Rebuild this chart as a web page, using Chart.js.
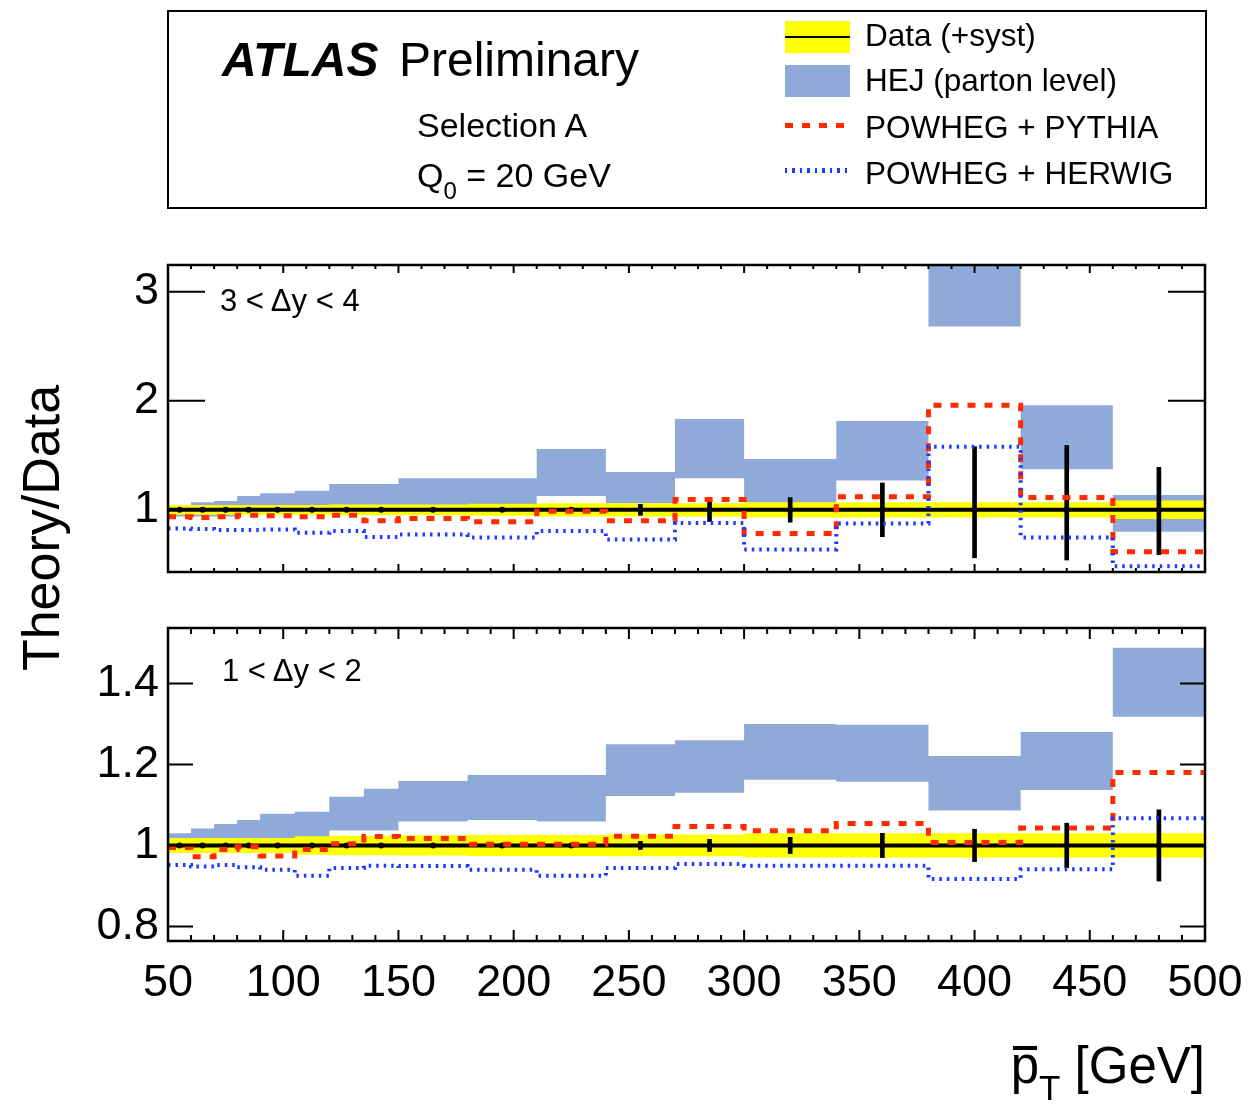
<!DOCTYPE html>
<html><head><meta charset="utf-8">
<script src="https://cdn.jsdelivr.net/npm/chart.js@4.4.1/dist/chart.umd.min.js"></script>
<style>
html,body{margin:0;padding:0;background:#fff;}
body{width:1248px;height:1104px;position:relative;overflow:hidden;font-family:"Liberation Sans",Arial,Helvetica,sans-serif;color:#000;}
canvas{position:absolute;left:0;top:0;}
.t{position:absolute;white-space:nowrap;line-height:1;}
</style></head><body>
<canvas id="cTop" width="1248" height="1104"></canvas>
<canvas id="cBot" width="1248" height="1104"></canvas>

<div style="position:absolute;left:167px;top:10px;width:1040px;height:199px;border:2.5px solid #000;box-sizing:border-box;"></div>
<div class="t" style="left:222px;top:36px;font-size:48px;font-weight:bold;font-style:italic;">ATLAS</div>
<div class="t" style="left:399px;top:36px;font-size:48px;">Preliminary</div>
<div class="t" style="left:417px;top:108px;font-size:34px;">Selection A</div>
<div class="t" style="left:417px;top:158px;font-size:34px;">Q<span style="font-size:24px;position:relative;top:12px;">0</span> = 20 GeV</div>

<div style="position:absolute;left:785px;top:21px;width:65px;height:32px;background:#ffff00;"></div>
<div style="position:absolute;left:785px;top:36px;width:65px;height:2px;background:#000;"></div>
<div style="position:absolute;left:785px;top:65px;width:65px;height:32px;background:#8faad9;"></div>
<div style="position:absolute;left:785px;top:123px;width:63px;height:5px;background:repeating-linear-gradient(90deg,#ff2a00 0 8px,transparent 8px 17px);"></div>
<div style="position:absolute;left:785px;top:168px;width:63px;height:5px;background:repeating-linear-gradient(90deg,#1a3cff 0 2.5px,transparent 2.5px 7.5px);"></div>
<div class="t" style="left:865px;top:20px;font-size:31.5px;">Data (+syst)</div>
<div class="t" style="left:865px;top:65px;font-size:31.5px;">HEJ (parton level)</div>
<div class="t" style="left:865px;top:112px;font-size:31.5px;">POWHEG + PYTHIA</div>
<div class="t" style="left:865px;top:158px;font-size:31.5px;">POWHEG + HERWIG</div>

<div class="t" style="left:220px;top:285px;font-size:31px;">3 &lt; Δy &lt; 4</div>
<div class="t" style="left:222px;top:655px;font-size:31px;">1 &lt; Δy &lt; 2</div>

<div class="t" style="left:-159px;top:498px;width:400px;height:60px;line-height:60px;text-align:center;font-size:52px;transform:rotate(-90deg);">Theory/Data</div>
<div class="t" style="right:43px;top:1040px;font-size:51px;"><span style="position:relative;display:inline-block;">p<span style="position:absolute;left:2px;right:2px;top:6px;height:4px;background:#000;"></span></span><span style="font-size:35px;position:relative;top:17px;">T</span> [GeV]</div>

<script>
// ---------------- data ----------------
const binEdges = [50,60,70,80,90,105,120,135,150,180,210,240,270,300,340,380,420,460,500];

// 3 < dy < 4
const topHejLo   = [0.94,0.94,0.94,0.97,0.98,0.99,1.02,1.02,1.04,1.04,1.126,1.06,1.29,1.064,1.27,2.68,1.373,0.80];
const topHejHi   = [1.03,1.07,1.08,1.126,1.153,1.175,1.236,1.236,1.29,1.29,1.557,1.346,1.832,1.465,1.814,3.6,1.96,1.135];
const topPythia  = [0.936,0.93,0.936,0.95,0.945,0.936,0.95,0.90,0.92,0.89,0.988,0.90,1.095,0.783,1.12,1.958,1.114,0.615];
const topHerwig  = [0.83,0.825,0.815,0.814,0.82,0.79,0.805,0.752,0.774,0.747,0.805,0.728,0.88,0.637,0.875,1.578,0.747,0.483];
const topData    = [1,1,1,1,1,1,1,1,1,1,1,1,1,1,1,1,1,1];
const topSyst    = [0.045,0.045,0.045,0.045,0.045,0.045,0.05,0.05,0.05,0.055,0.06,0.06,0.06,0.07,0.07,0.07,0.07,0.085];
const topStatUp  = [0.005,0.005,0.005,0.005,0.005,0.005,0.006,0.006,0.008,0.01,0.015,0.05,0.107,0.113,0.246,0.58,0.59,0.39];
const topStatDn  = [0.005,0.005,0.005,0.005,0.005,0.005,0.006,0.006,0.008,0.01,0.015,0.05,0.107,0.113,0.246,0.44,0.46,0.41];

// 1 < dy < 2
const botHejLo   = [0.99,1.0,1.0,1.005,1.01,1.015,1.037,1.037,1.059,1.063,1.059,1.122,1.13,1.162,1.157,1.086,1.137,1.318];
const botHejHi   = [1.03,1.042,1.053,1.063,1.078,1.083,1.12,1.14,1.159,1.174,1.174,1.25,1.26,1.30,1.298,1.221,1.28,1.488];
const botPythia  = [0.995,0.972,0.99,0.997,0.974,0.99,1.004,1.022,1.017,1.003,1.003,1.023,1.047,1.036,1.054,1.007,1.043,1.18];
const botHerwig  = [0.952,0.948,0.952,0.946,0.94,0.925,0.944,0.95,0.949,0.94,0.925,0.944,0.954,0.95,0.95,0.917,0.941,1.067];
const botData    = [1,1,1,1,1,1,1,1,1,1,1,1,1,1,1,1,1,1];
const botSyst    = [0.0185,0.0185,0.0185,0.0185,0.0185,0.023,0.024,0.024,0.025,0.026,0.026,0.027,0.027,0.03,0.03,0.03,0.03,0.03];
const botStat    = [0.002,0.002,0.002,0.002,0.002,0.003,0.003,0.003,0.004,0.004,0.005,0.01,0.015,0.02,0.03,0.04,0.055,0.088];

// axes
const xTickValues = [50,100,150,200,250,300,350,400,450,500];
const xMinorStep = 10;
const topYTicks = [1,2,3];
const botYTicks = [0.8,1,1.2,1.4];
const topYRange = [0.43,3.245];
const botYRange = [0.764,1.537];

// ---------------- helpers ----------------
const FONT = '"Liberation Sans", Arial, Helvetica, sans-serif';
const HEJ_COL = '#8faad9', SYST_COL = '#ffff00', PY_COL = '#ff2a00', HW_COL = '#1a3cff';

function stepData(vals){
  const pts = vals.map((v,i)=>({x:binEdges[i], y:v}));
  pts.push({x:binEdges[binEdges.length-1], y:vals[vals.length-1]});
  return pts;
}
const centers = binEdges.slice(0,-1).map((e,i)=>(e+binEdges[i+1])/2);

function framePlugin(cfg){
  return {
    id:'frame',
    afterDatasetsDraw(chart){
      const ctx = chart.ctx, a = chart.chartArea, x = chart.scales.x, y = chart.scales.y;
      ctx.save();
      ctx.strokeStyle = '#000';
      ctx.lineWidth = 2;
      ctx.beginPath();
      for (let v = x.min; v <= x.max + 1e-9; v += xMinorStep){
        const px = x.getPixelForValue(v);
        const len = xTickValues.includes(v) ? cfg.xMaj : cfg.xMin;
        ctx.moveTo(px, a.bottom); ctx.lineTo(px, a.bottom - len);
        ctx.moveTo(px, a.top); ctx.lineTo(px, a.top + len);
      }
      cfg.yTicks.forEach(v=>{
        const py = y.getPixelForValue(v);
        ctx.moveTo(a.left, py); ctx.lineTo(a.left + cfg.yLen, py);
        ctx.moveTo(a.right, py); ctx.lineTo(a.right - cfg.yLen, py);
      });
      ctx.stroke();
      ctx.lineWidth = 2.5;
      ctx.strokeRect(a.left, a.top, a.right - a.left, a.bottom - a.top);
      ctx.restore();
    }
  };
}

function panelDatasets(hejLo, hejHi, syst, data, statUp, statDn, pythia, herwig){
  const base = {type:'line', stepped:true, pointRadius:0, borderWidth:0, tension:0};
  return [
    Object.assign({}, base, {label:'HEJ hi', data:stepData(hejHi), fill:'+1', backgroundColor:HEJ_COL, borderColor:HEJ_COL, order:10}),
    Object.assign({}, base, {label:'HEJ lo', data:stepData(hejLo), fill:false, borderColor:HEJ_COL, order:10}),
    Object.assign({}, base, {label:'syst hi', data:stepData(data.map((d,i)=>d+syst[i])), fill:'+1', backgroundColor:SYST_COL, borderColor:SYST_COL, order:9}),
    Object.assign({}, base, {label:'syst lo', data:stepData(data.map((d,i)=>d-syst[i])), fill:false, borderColor:SYST_COL, order:9}),
    Object.assign({}, base, {label:'Data', data:stepData(data), fill:false, borderColor:'#000', borderWidth:4, order:8}),
    {type:'bar', label:'stat', data:centers.map((c,i)=>({x:c, y:[data[i]-statDn[i], data[i]+statUp[i]]})), backgroundColor:'#000', barThickness:4, order:7},
    {type:'line', label:'points', data:centers.map((c,i)=>({x:c, y:data[i]})), showLine:false, pointRadius:3, pointBackgroundColor:'#000', pointBorderWidth:0, order:6},
    Object.assign({}, base, {label:'POWHEG + PYTHIA', data:stepData(pythia), fill:false, borderColor:PY_COL, borderWidth:5, borderDash:[8,9], order:5}),
    Object.assign({}, base, {label:'POWHEG + HERWIG', data:stepData(herwig), fill:false, borderColor:HW_COL, borderWidth:4, borderDash:[2.5,5], order:4}),
  ];
}

function yScale(range, ticks){
  return {
    type:'linear', position:'left', min:range[0], max:range[1],
    grid:{display:false, drawTicks:false}, border:{display:false},
    ticks:{font:{family:FONT, size:45}, color:'#000', padding:9, callback:(v)=>String(v)},
    afterBuildTicks:(s)=>{ s.ticks = ticks.map(v=>({value:v})); },
    afterFit:(s)=>{ s.width = 168; }
  };
}

const common = {
  responsive:false, animation:false, devicePixelRatio:1,
  plugins:{legend:{display:false}, tooltip:{enabled:false}},
  events:[]
};

new Chart(document.getElementById('cTop'), {
  type:'line',
  data:{datasets: panelDatasets(topHejLo, topHejHi, topSyst, topData, topStatUp, topStatDn, topPythia, topHerwig)},
  options: Object.assign({}, common, {
    layout:{padding:{top:265, bottom:1104-572, left:0, right:43}},
    scales:{
      x:{type:'linear', min:50, max:500, display:false, offset:false},
      y:yScale(topYRange, topYTicks)
    }
  }),
  plugins:[framePlugin({xMaj:8, xMin:4, yLen:37, yTicks:topYTicks})]
});

new Chart(document.getElementById('cBot'), {
  type:'line',
  data:{datasets: panelDatasets(botHejLo, botHejHi, botSyst, botData, botStat, botStat, botPythia, botHerwig)},
  options: Object.assign({}, common, {
    layout:{padding:{top:628, bottom:0, left:0, right:43}},
    scales:{
      x:{type:'linear', position:'bottom', min:50, max:500, offset:false,
         grid:{display:false, drawTicks:true, tickLength:16}, border:{display:false},
         ticks:{font:{family:FONT, size:45}, color:'#000', padding:0, maxRotation:0, autoSkip:false, callback:(v)=>String(v)},
         afterBuildTicks:(s)=>{ s.ticks = xTickValues.map(v=>({value:v})); },
         afterFit:(s)=>{ s.height = 1104-941; }
      },
      y:yScale(botYRange, botYTicks)
    }
  }),
  plugins:[framePlugin({xMaj:11, xMin:6, yLen:25, yTicks:botYTicks})]
});
</script>
</body></html>
